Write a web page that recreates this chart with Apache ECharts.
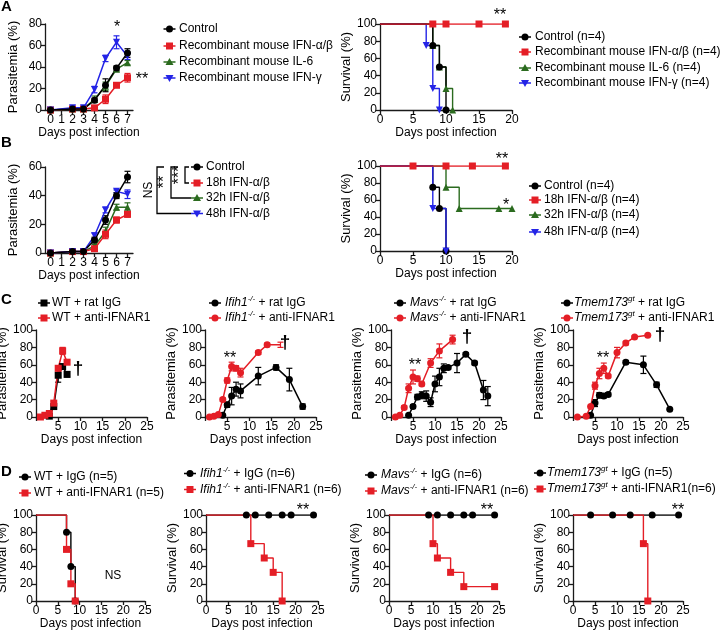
<!DOCTYPE html>
<html>
<head>
<meta charset="utf-8">
<script src="https://cdn.jsdelivr.net/npm/echarts@6.0.0/dist/echarts.min.js"></script>
<style>
html,body{margin:0;padding:0;background:#fff;}
#chart{width:722px;height:631px;}
</style>
</head>
<body>
<div id="chart"></div>
<script>
// ================= DATA =================
// ---- Panel A: parasitemia (days 0-7) ----
const aDays = [0, 2, 3, 4, 5, 6, 7];
const aControl = [0, 1, 1, 9, 23, 39, 53];
const aControlSem = [0, 0, 0, 2, 6, 2, 4];
const aIfnab = [0, 1, 1, 2, 10, 23, 30];
const aIfnabSem = [0, 0, 0, 1, 4, 1, 4];
const aIl6 = [0, 1, 1, 10, 22, 38, 44];
const aIl6Sem = [0, 0, 0, 3, 4, 2, 2];
const aIfng = [0, 2, 2, 19, 48, 63, 50];
const aIfngSem = [0, 1, 1, 3, 3, 6, 3];
const aLegend = ['Control', 'Recombinant mouse IFN-α/β', 'Recombinant mouse IL-6', 'Recombinant mouse IFN-γ'];
// ---- Panel A: survival ----
const aSurvCtrlDays = [0, 8, 9, 10];
const aSurvCtrl = [100, 75, 50, 0];
const aSurvIfnabDays = [0, 8, 10, 15, 19];
const aSurvIfnab = [100, 100, 100, 100, 100];
const aSurvIl6Days = [0, 8, 9, 10, 11];
const aSurvIl6 = [100, 75, 50, 25, 0];
const aSurvIfngDays = [0, 7, 8, 9];
const aSurvIfng = [100, 75, 25, 0];
const aSurvLegend = ['Control (n=4)', 'Recombinant mouse IFN-α/β (n=4)', 'Recombinant mouse IL-6 (n=4)', 'Recombinant mouse IFN-γ (n=4)'];

// ---- Panel B: parasitemia ----
const bDays = [0, 2, 3, 4, 5, 6, 7];
const bControl = [0, 1, 1, 9, 23, 40, 53];
const bControlSem = [0, 0, 0, 2, 3, 2, 4];
const b18h = [0, 1, 1, 3, 13, 23, 27];
const b18hSem = [0, 0, 0, 1, 3, 2, 2];
const b32h = [0, 1, 1, 5, 15, 32, 32];
const b32hSem = [0, 0, 0, 1, 3, 2, 3];
const b48h = [0, 1, 1, 12, 30, 43, 41];
const b48hSem = [0, 0, 0, 2, 2, 1, 3];
const bLegend = ['Control', '18h IFN-α/β', '32h IFN-α/β', '48h IFN-α/β'];
// ---- Panel B: survival ----
const bSurvCtrlDays = [0, 8, 9, 10];
const bSurvCtrl = [100, 75, 50, 0];
const bSurv18Days = [0, 5, 10, 14, 19];
const bSurv18 = [100, 100, 100, 100, 100];
const bSurv32Days = [0, 10, 12, 18, 20];
const bSurv32 = [100, 75, 50, 50, 50];
const bSurv48Days = [0, 8, 10];
const bSurv48 = [100, 50, 0];
const bSurvLegend = ['Control (n=4)', '18h IFN-α/β (n=4)', '32h IFN-α/β (n=4)', '48h IFN-α/β (n=4)'];

// ---- Panel C: parasitemia, IgG vs anti-IFNAR1 ----
const c1IgGDays = [3, 4, 5, 6, 7];
const c1IgG = [1, 12, 48, 58, 49];
const c1IgGSem = [0, 0, 8, 2, 3];
const c1AntiDays = [1, 2, 3, 4, 5, 6, 7];
const c1Anti = [0, 2, 4, 16, 56, 76, 63];
const c1AntiSem = [0, 0, 0, 2, 3, 4, 2];

const c2IgGDays = [4, 5, 6, 7, 8, 12, 16, 19, 22];
const c2IgG = [2, 14, 24, 32, 30, 47, 57, 43, 12];
const c2IgGSem = [0, 3, 10, 8, 8, 10, 3, 13, 3];
const c2AntiDays = [1, 2, 3, 4, 5, 6, 7, 8, 12, 14, 17];
const c2Anti = [0, 1, 3, 20, 42, 58, 56, 51, 74, 83, 83];
const c2AntiSem = [0, 0, 0, 2, 3, 5, 3, 5, 2, 2, 3];

const c3IgGDays = [4, 5, 6, 7, 8, 9, 10, 11, 12, 13, 15, 17, 19, 21, 22];
const c3IgG = [2, 12, 23, 25, 24, 17, 38, 46, 56, 57, 62, 72, 62, 31, 24];
const c3IgGSem = [0, 2, 3, 4, 6, 5, 9, 10, 5, 2, 11, 2, 2, 11, 11];
const c3AntiDays = [1, 2, 3, 4, 5, 6, 7, 9, 11, 14];
const c3Anti = [0, 2, 11, 33, 46, 44, 38, 62, 76, 89];
const c3AntiSem = [0, 0, 2, 5, 8, 3, 2, 5, 8, 5];

const c4IgGDays = [4, 5, 6, 7, 8, 12, 16, 19, 22];
const c4IgG = [2, 16, 25, 24, 26, 63, 60, 37, 9];
const c4IgGSem = [0, 4, 3, 2, 2, 2, 10, 3, 1];
const c4AntiDays = [1, 3, 4, 5, 6, 7, 8, 10, 12, 14, 17];
const c4Anti = [0, 1, 12, 36, 50, 56, 47, 74, 85, 92, 94];
const c4AntiSem = [0, 0, 0, 4, 6, 6, 2, 6, 2, 1, 1];

const c1Legend = ['WT + rat IgG', 'WT + anti-IFNAR1'];
const c2Legend = ['{i|Ifih1}{s|-/-} + rat IgG', '{i|Ifih1}{s|-/-} + anti-IFNAR1'];
const c3Legend = ['{i|Mavs}{s|-/-} + rat IgG', '{i|Mavs}{s|-/-} + anti-IFNAR1'];
const c4Legend = ['{i|Tmem173}{s|gt} + rat IgG', '{i|Tmem173}{s|gt} + anti-IFNAR1'];

// ---- Panel D: survival ----
const d1IgGDays = [0, 7, 8, 9];
const d1IgG = [100, 80, 40, 0];
const d1AntiDays = [0, 7, 8, 9];
const d1Anti = [100, 60, 20, 0];
const d2IgGDays = [0, 9, 11, 14, 17, 19, 24];
const d2IgG = [100, 100, 100, 100, 100, 100, 100];
const d2AntiDays = [0, 10, 13, 15, 17];
const d2Anti = [100, 66.7, 50, 33.3, 0];
const d3IgGDays = [0, 9, 11, 14, 17, 19, 24];
const d3IgG = [100, 100, 100, 100, 100, 100, 100];
const d3AntiDays = [0, 10, 11, 14, 17, 24];
const d3Anti = [100, 66.7, 50, 33.3, 16.7, 16.7];
const d4IgGDays = [0, 4, 9, 13, 18, 24];
const d4IgG = [100, 100, 100, 100, 100, 100];
const d4AntiDays = [0, 16, 17];
const d4Anti = [100, 66.7, 0];

const d1Legend = ['WT + IgG (n=5)', 'WT + anti-IFNAR1 (n=5)'];
const d2Legend = ['{i|Ifih1}{s|-/-} + IgG (n=6)', '{i|Ifih1}{s|-/-} + anti-IFNAR1 (n=6)'];
const d3Legend = ['{i|Mavs}{s|-/-} + IgG (n=6)', '{i|Mavs}{s|-/-} + anti-IFNAR1 (n=6)'];
const d4Legend = ['{i|Tmem173}{s|gt} + IgG (n=5)', '{i|Tmem173}{s|gt} + anti-IFNAR1(n=6)'];

// ================= STYLE / LAYOUT =================
const FONT = '"Liberation Sans", Arial, Helvetica, sans-serif';
const RED = '#e41e26', BLK = '#000000', GRN = '#2b6b1f', BLU = '#2424e6';
const AX = '#1a1a1a';

// grid rectangles [left, top, width, height]
const grids = [
  [45, 24, 88, 86], [380, 24, 132, 86],
  [45, 167, 88, 86], [380, 166, 132, 85],
  [36, 330, 111, 87], [205, 330, 111, 87], [391, 330, 110, 87], [573, 330, 110, 87],
  [36, 515, 109, 86], [206, 515, 112, 86], [389, 515, 110, 86], [573, 515, 110, 86]
];

function xAxisCfg(gi, kind) {
  const base = {
    gridIndex: gi, type: 'value', position: 'bottom',
    axisLine: {show: true, onZero: false, lineStyle: {color: AX, width: 1.3}},
    axisTick: {show: true, length: 4, lineStyle: {color: AX, width: 1.3}},
    axisLabel: {color: '#000', fontSize: 12, fontFamily: FONT, margin: 4},
    splitLine: {show: false},
    name: 'Days post infection', nameLocation: 'middle', nameGap: 16,
    nameTextStyle: {color: '#000', fontSize: 12, fontFamily: FONT}
  };
  if (kind === 'week') {
    base.min = -0.5; base.max = 7.5;
    base.axisLabel.customValues = [0, 1, 2, 3, 4, 5, 6, 7];
    base.axisTick.customValues = [0, 1, 2, 3, 4, 5, 6, 7];
  } else if (kind === 'surv20') {
    base.min = 0; base.max = 20; base.interval = 5;
  } else if (kind === 'c25') {
    base.min = 0; base.max = 25; base.interval = 5;
    base.axisLabel.formatter = v => (v === 0 ? '' : String(v));
    base.nameGap = 17;
  } else {
    base.min = 0; base.max = 25; base.interval = 5;
    base.nameGap = 14;
  }
  return base;
}
function yAxisCfg(gi, max, name, gap) {
  return {
    gridIndex: gi, type: 'value', min: 0, max: max, interval: 20,
    axisLine: {show: true, onZero: false, lineStyle: {color: AX, width: 1.3}},
    axisTick: {show: true, length: 4, lineStyle: {color: AX, width: 1.3}},
    axisLabel: {color: '#000', fontSize: 12, fontFamily: FONT, margin: 3},
    splitLine: {show: false},
    name: name, nameLocation: 'middle', nameGap: gap,
    nameTextStyle: {color: '#000', fontSize: 13, fontFamily: FONT}
  };
}

const xAxes = [
  xAxisCfg(0, 'week'), xAxisCfg(1, 'surv20'), xAxisCfg(2, 'week'), xAxisCfg(3, 'surv20'),
  xAxisCfg(4, 'c25'), xAxisCfg(5, 'c25'), xAxisCfg(6, 'c25'), xAxisCfg(7, 'c25'),
  xAxisCfg(8, 'd25'), xAxisCfg(9, 'd25'), xAxisCfg(10, 'd25'), xAxisCfg(11, 'd25')
];
const yAxes = [
  yAxisCfg(0, 80, 'Parasitemia (%)', 25), yAxisCfg(1, 100, 'Survival (%)', 20),
  yAxisCfg(2, 60, 'Parasitemia (%)', 25), yAxisCfg(3, 100, 'Survival (%)', 20),
  yAxisCfg(4, 100, 'Parasitemia (%)', 21), yAxisCfg(5, 100, 'Parasitemia (%)', 21),
  yAxisCfg(6, 100, 'Parasitemia (%)', 21), yAxisCfg(7, 100, 'Parasitemia (%)', 21),
  yAxisCfg(8, 100, 'Survival (%)', 21), yAxisCfg(9, 100, 'Survival (%)', 21),
  yAxisCfg(10, 100, 'Survival (%)', 21), yAxisCfg(11, 100, 'Survival (%)', 21)
];

const series = [];
function symbolOpts(shape) {
  if (shape === 'triangleDown') return {symbol: 'triangle', symbolRotate: 180};
  return {symbol: shape};
}
function lineS(gi, xs, ys, color, shape, size, hideLast) {
  const so = symbolOpts(shape);
  series.push(Object.assign({
    type: 'line', xAxisIndex: gi, yAxisIndex: gi, animation: false, silent: true,
    data: xs.map((x, i) => (hideLast && i === xs.length - 1) ? {value: [x, ys[i]], symbol: 'none'} : [x, ys[i]]),
    symbolSize: size || 7, showAllSymbol: true, z: 3,
    lineStyle: {color: color, width: 1.5}, itemStyle: {color: color, borderWidth: 0}
  }, so));
}
function errS(gi, xs, ys, sems, color) {
  const data = [];
  xs.forEach((x, i) => { if (sems[i] > 0) data.push([x, ys[i] - sems[i], ys[i] + sems[i]]); });
  series.push({
    type: 'custom', xAxisIndex: gi, yAxisIndex: gi, silent: true, z: 2, animation: false,
    encode: {x: 0, y: [1, 2]}, data: data,
    renderItem: function (params, api) {
      const x = api.value(0), lo = api.value(1), hi = api.value(2);
      const p1 = api.coord([x, lo]), p2 = api.coord([x, hi]);
      const w = 3, st = {stroke: color, lineWidth: 1.2};
      return {type: 'group', children: [
        {type: 'line', shape: {x1: p1[0], y1: p1[1], x2: p2[0], y2: p2[1]}, style: st},
        {type: 'line', shape: {x1: p1[0] - w, y1: p1[1], x2: p1[0] + w, y2: p1[1]}, style: st},
        {type: 'line', shape: {x1: p2[0] - w, y1: p2[1], x2: p2[0] + w, y2: p2[1]}, style: st}
      ]};
    }
  });
}
function survS(gi, xs, ys, color, shape) {
  const so = symbolOpts(shape);
  series.push(Object.assign({
    type: 'line', xAxisIndex: gi, yAxisIndex: gi, animation: false, silent: true, step: 'end',
    data: xs.map((x, i) => i === 0 ? {value: [x, ys[i]], symbol: 'none'} : [x, ys[i]]),
    symbolSize: 7, showAllSymbol: true, z: 3,
    lineStyle: {color: color, width: 1.4}, itemStyle: {color: color, borderWidth: 0}
  }, so));
}
function curve(gi, xs, ys, sems, color, shape, size, hideLast) {
  errS(gi, xs, ys, sems, color);
  lineS(gi, xs, ys, color, shape, size, hideLast);
}

// Panel A
curve(0, aDays, aIl6, aIl6Sem, GRN, 'triangle');
curve(0, aDays, aIfnab, aIfnabSem, RED, 'rect');
curve(0, aDays, aIfng, aIfngSem, BLU, 'triangleDown');
curve(0, aDays, aControl, aControlSem, BLK, 'circle');
survS(1, aSurvIl6Days, aSurvIl6, GRN, 'triangle');
survS(1, aSurvIfngDays, aSurvIfng, BLU, 'triangleDown');
survS(1, aSurvCtrlDays, aSurvCtrl, BLK, 'circle');
survS(1, aSurvIfnabDays, aSurvIfnab, RED, 'rect');
// Panel B
curve(2, bDays, b32h, b32hSem, GRN, 'triangle');
curve(2, bDays, b18h, b18hSem, RED, 'rect');
curve(2, bDays, b48h, b48hSem, BLU, 'triangleDown');
curve(2, bDays, bControl, bControlSem, BLK, 'circle');
survS(3, bSurv32Days, bSurv32, GRN, 'triangle');
survS(3, bSurvCtrlDays, bSurvCtrl, BLK, 'circle');
survS(3, bSurv48Days, bSurv48, BLU, 'triangleDown');
survS(3, bSurv18Days, bSurv18, RED, 'rect');
// Panel C
curve(4, c1IgGDays, c1IgG, c1IgGSem, BLK, 'rect');
curve(4, c1AntiDays, c1Anti, c1AntiSem, RED, 'rect');
curve(5, c2IgGDays, c2IgG, c2IgGSem, BLK, 'circle');
curve(5, c2AntiDays, c2Anti, c2AntiSem, RED, 'circle', 7, true);
curve(6, c3IgGDays, c3IgG, c3IgGSem, BLK, 'circle');
curve(6, c3AntiDays, c3Anti, c3AntiSem, RED, 'circle');
curve(7, c4IgGDays, c4IgG, c4IgGSem, BLK, 'circle');
curve(7, c4AntiDays, c4Anti, c4AntiSem, RED, 'circle');
// Panel D
survS(8, d1IgGDays, d1IgG, BLK, 'circle');
survS(8, d1AntiDays, d1Anti, RED, 'rect');
survS(9, d2IgGDays, d2IgG, BLK, 'circle');
survS(9, d2AntiDays, d2Anti, RED, 'rect');
survS(10, d3IgGDays, d3IgG, BLK, 'circle');
survS(10, d3AntiDays, d3Anti, RED, 'rect');
survS(11, d4IgGDays, d4IgG, BLK, 'circle');
survS(11, d4AntiDays, d4Anti, RED, 'rect');

// ================= ANNOTATIONS (graphic) =================
const G = [];
const RICH = {
  i: {fontStyle: 'italic', fontSize: 12, fontFamily: FONT, fill: '#000'},
  s: {fontStyle: 'italic', fontSize: 8, fontFamily: FONT, fill: '#000', verticalAlign: 'top', lineHeight: 9}
};
function txt(x, y, s, o) {
  o = o || {};
  const al = o.align || 'left';
  G.push({
    type: 'text', x: x, y: y, z: 100, silent: true, rotation: o.rot || 0,
    style: {
      text: s, x: 0, y: 0, fill: '#000',
      font: (o.italic ? 'italic ' : '') + (o.bold ? 'bold ' : '') + (o.size || 12) + 'px ' + FONT,
      align: al, textAlign: al, verticalAlign: 'middle', textVerticalAlign: 'middle',
      lineHeight: o.lh || undefined, rich: o.rich ? RICH : undefined
    }
  });
}
function seg(pts, color, w) {
  G.push({type: 'polyline', z: 100, silent: true, shape: {points: pts}, style: {stroke: color, lineWidth: w || 1.3, fill: null}});
}
function marker(x, y, shape, color) {
  const r = 3.5;
  if (shape === 'circle') G.push({type: 'circle', z: 101, silent: true, shape: {cx: x, cy: y, r: r}, style: {fill: color}});
  else if (shape === 'rect') G.push({type: 'rect', z: 101, silent: true, shape: {x: x - r, y: y - r, width: 2 * r, height: 2 * r}, style: {fill: color}});
  else if (shape === 'triangle') G.push({type: 'polygon', z: 101, silent: true, shape: {points: [[x, y - 4], [x + 4, y + 3], [x - 4, y + 3]]}, style: {fill: color}});
  else G.push({type: 'polygon', z: 101, silent: true, shape: {points: [[x, y + 4], [x + 4, y - 3], [x - 4, y - 3]]}, style: {fill: color}});
}
function legendBlock(mx, tx, ys, half, labels, colors, shapes, rich) {
  labels.forEach((lab, i) => {
    seg([[mx - half, ys[i]], [mx + half, ys[i]]], colors[i], 1.5);
    marker(mx, ys[i], shapes[i], colors[i]);
    txt(tx, ys[i], lab, {rich: rich, lh: 16});
  });
}
const colors4 = [BLK, RED, GRN, BLU];
const shapes4 = ['circle', 'rect', 'triangle', 'triangleDown'];

// panel letters
txt(1, 7, 'A', {bold: true, size: 15});
txt(1, 143, 'B', {bold: true, size: 15});
txt(1, 300, 'C', {bold: true, size: 15});
txt(1, 472, 'D', {bold: true, size: 15});

// legends
legendBlock(169.5, 179, [29, 46, 62, 78], 6, aLegend, colors4, shapes4);
legendBlock(525, 535, [37, 52, 68, 83], 6, aSurvLegend, colors4, shapes4);
legendBlock(197, 206, [167, 183, 198, 213.5], 6, bLegend, colors4, shapes4);
legendBlock(535, 544, [186, 200, 215, 232], 6, bSurvLegend, colors4, shapes4);
legendBlock(44, 52, [303, 318], 6, c1Legend, [BLK, RED], ['rect', 'rect']);
legendBlock(215, 225, [303, 318], 6, c2Legend, [BLK, RED], ['circle', 'circle'], true);
legendBlock(400, 410, [303, 318], 6, c3Legend, [BLK, RED], ['circle', 'circle'], true);
legendBlock(567, 574, [303, 318], 6, c4Legend, [BLK, RED], ['circle', 'circle'], true);
legendBlock(25, 34, [477, 493], 6, d1Legend, [BLK, RED], ['circle', 'rect']);
legendBlock(190, 200, [473.5, 489.5], 6, d2Legend, [BLK, RED], ['circle', 'rect'], true);
legendBlock(371, 381, [475, 491], 6, d3Legend, [BLK, RED], ['circle', 'rect'], true);
legendBlock(540, 547, [473, 489], 6, d4Legend, [BLK, RED], ['circle', 'rect'], true);

// significance marks
txt(117, 28, '*', {size: 16, align: 'center'});
txt(142, 80, '**', {size: 16, align: 'center'});
txt(500, 16, '**', {size: 16, align: 'center'});
txt(502, 160, '**', {size: 16, align: 'center'});
txt(506, 206, '*', {size: 16, align: 'center'});
txt(230, 359, '**', {size: 16, align: 'center'});
txt(415, 366, '**', {size: 16, align: 'center'});
txt(603, 359, '**', {size: 16, align: 'center'});
txt(303, 511, '**', {size: 16, align: 'center'});
txt(487, 511, '**', {size: 16, align: 'center'});
txt(678, 511, '**', {size: 16, align: 'center'});
txt(113, 576, 'NS', {size: 12, align: 'center'});
// daggers
txt(78, 369, '†', {size: 19, bold: true, align: 'center'});
txt(285, 343, '†', {size: 19, bold: true, align: 'center'});
txt(467, 337, '†', {size: 19, bold: true, align: 'center'});
txt(660, 335, '†', {size: 19, bold: true, align: 'center'});
// panel B brackets
seg([[189, 167], [185, 167], [185, 183], [189, 183]], BLK);
seg([[178, 167], [171, 167], [171, 198], [191, 198]], BLK);
seg([[164, 167], [157, 167], [157, 213.5], [191, 213.5]], BLK);
txt(180, 175, '***', {size: 16, align: 'center', rot: Math.PI / 2});
txt(165, 182, '**', {size: 16, align: 'center', rot: Math.PI / 2});
txt(149, 190, 'NS', {size: 12, align: 'center', rot: Math.PI / 2});

const option = {
  animation: false,
  backgroundColor: '#ffffff',
  textStyle: {fontFamily: FONT},
  grid: grids.map(g => ({left: g[0], top: g[1], width: g[2], height: g[3], containLabel: false, outerBoundsMode: 'none'})),
  xAxis: xAxes,
  yAxis: yAxes,
  series: series,
  graphic: {elements: G}
};
const chart = echarts.init(document.getElementById('chart'), null, {renderer: 'canvas'});
chart.setOption(option);
</script>
</body>
</html>
